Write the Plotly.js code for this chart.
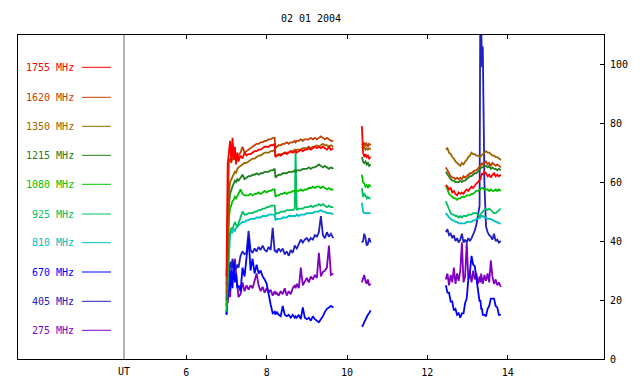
<!DOCTYPE html>
<html><head><meta charset="utf-8">
<script src="https://cdn.plot.ly/plotly-3.0.1.min.js"></script>
<style>body{margin:0;background:#fff}#chart{width:640px;height:384px}</style>
</head><body><div id="chart"></div>
<script>
const titleText = '02 01 2004';
const xTicks = [6, 8, 10, 12, 14];
const yTicks = [0, 20, 40, 60, 80, 100];

const seg1Times = [7.00,7.03,7.06,7.09,7.12,7.15,7.18,7.21,7.24,7.27,7.30,7.35,7.40,7.45,7.50,7.55,7.60,7.65,7.70,7.75,7.80,7.85,7.90,7.95,8.00,8.05,8.10,8.15,8.20,8.22,8.25,8.30,8.35,8.40,8.45,8.50,8.55,8.60,8.65,8.70,8.72,8.75,8.80,8.85,8.90,8.95,9.00,9.05,9.10,9.15,9.20,9.25,9.30,9.35,9.40,9.45,9.50,9.55,9.60,9.66];
const seg2Times = [10.37,10.40,10.43,10.46,10.49,10.52,10.55,10.59];
const seg3Times = [12.46,12.50,12.54,12.58,12.62,12.66,12.70,12.74,12.78,12.82,12.86,12.90,12.94,12.98,13.02,13.06,13.10,13.14,13.18,13.22,13.26,13.30,13.32,13.34,13.36,13.38,13.42,13.46,13.50,13.54,13.58,13.62,13.66,13.70,13.74,13.78,13.83];
const times = [...seg1Times, null, ...seg2Times, null, ...seg3Times];

const f1755 = [28,66,70,74,67,75,68,72,66,70,67,69,68,70,69,69.5,69.5,70,70.5,70.5,71,71,71.5,72,72,72,72.5,72.5,73,68.5,69,69.5,69,69.5,70,69.5,70,70.5,70,70.5,70.5,70,70.5,71,70.5,71,71,71.5,71,71.5,72,71.5,72,71.5,72,71.5,71,72,71,71.5,
  null, 79,70,68.5,69.5,68.5,69,68,68.5,
  null, 59,58.5,57.5,58,56.5,57,56,55.5,56.5,56,56.5,56,57,57.5,57,58,58.5,58,59,59.5,60,60.5,61,62,63,62.5,63.5,63,62,62.5,61.5,62.5,63,62,62.5,62,62.5];
const f1620 = [25,55,67,68,66.5,69,67.5,68.5,67,68,69,70,72,70,70.5,71,71.5,72,72.5,73,73,73.5,73.5,74,74,74.5,74.5,75,75,71.5,72,72.5,72.5,73,73,73.5,73,73.5,73.5,74,73.5,74,74,74.5,74,74.5,74.5,74.5,75,74.5,75,74.5,75,75.5,75,74.5,75,74.5,74,74,
  null, 73,72.5,73.5,72.5,73,72,73,72.5,
  null, 65,64,62.5,62,61.5,61.5,61,61.5,61,61.5,61,62,61.5,62,62.5,63,63,63.5,64,64,64.5,65,65.5,66,66.5,66,66.5,67,66,66.5,65.5,66.5,66,65.5,66,65.5,65];
const f1350 = [22,45,56,60,61,62,62.5,63.5,63,64.5,65,65.5,66,66.5,66.5,67,67.5,68,68,68.5,69,69,69.5,70,70,70,70.5,70.5,71,68.5,69,69,69.5,69.5,70,70,70,70.5,70.5,71,70.5,71,71,71,71.5,71.5,71.5,72,71.5,72,72,72.5,72,72.5,73,72.5,72.5,72,72.5,72,
  null, 72,71.5,72,71,71.5,71,71.5,71,
  null, 71,71.5,70,69.5,68.5,68,67,66.5,66,65.5,66.5,66,67,67.5,68.5,69,70,69.5,69.5,69,69,68.5,68.5,69,69.5,69.5,70,70.5,70,70,69.5,69,69,68.5,68.5,68,67.5];
const f1215 = [20,40,52,56,57.5,58.5,59.5,60.5,60,61,60.5,61.5,62.5,61,61.5,62,62,62.5,62.5,63,62.5,63,63,63.5,63.5,63.5,64,64,64.5,61.5,62,62.5,62.5,63,63,63,63.5,63.5,63.5,64,63.5,64,64,64,64.5,64.5,64.5,65,64.5,65,65,65.5,66,65.5,65,65.5,65,64.5,65,64.5,
  null, 68.5,67,66.5,67,66,66.5,65.5,66,
  null, 63.5,62.5,61.5,61,60.5,60.5,60,60,60,60.5,60,60.5,60.5,61,61.5,62,62,62.5,63,63,63.5,64,64.5,65,65,65,65.5,65.5,65,65.5,64.5,65,64.5,64.5,64,64.5,64];
const f1080 = [18,35,48,51,52.5,53.5,54,55,54.5,55.5,56.5,57.5,56,55.5,55.5,55.5,56,55.5,56,56,56.5,56,56.5,57,56.5,57,57,57.5,57.5,55,55.5,55.5,56,56,56.5,56,56.5,56.5,57,57,56.5,57,57,57.5,57,57.5,57.5,58,58,58.5,58,58.5,58.5,58,58.5,58,57.5,58,57.5,57.5,
  null, 62.5,60,59.5,58.5,59,58,59,58.5,
  null, 59,57.5,56,55.5,55,54.5,54.5,54,54.5,54.5,55,55,55,55.5,55.5,55.5,56,56,56.5,57,57,57.5,57.5,58,58,58,57.5,57.5,57.5,57,57.5,57,57,57.5,57,57.5,57];
const f925 = [16,30,40,43,44.5,44,45.5,46.5,45.5,45,46,48,50,49,49,49.5,49.5,49.5,50,50,50.5,50.5,51,51,51.5,51.5,52,52,52,49,49.5,49.5,50,50,50,50.5,50.5,50.5,50.5,51,71,50.5,51,51,51,51.5,51.5,51.5,52,51.5,52,52,52.5,52,52.5,52,51.5,52,51.5,51.5,
  null, 58,55,56,55.5,54.5,55,54.5,54.5,
  null, 53.5,52,50.5,49.5,49,49,48.5,48.5,48,48.5,48,48.5,48.5,48.5,49,49,49,49.5,49.5,49.5,49,48.5,49,49.5,49.5,50,50.5,51,50.5,51,50.5,50,49.5,49.5,50,50.5,51];
const f810 = [18,28,38,42,43.5,43,44,43.5,44.5,45,45.5,46,46.5,46.5,47,47,47.5,47.5,47.5,48,48,48,48.5,48.5,48.5,49,49,49,49,47,47.5,47.5,47.5,48,48,48,48.5,48.5,48.5,48.5,48.5,49,48.5,49,49,49,49.5,49.5,49.5,49.5,50,50,50,50.5,50,50,49.5,49.5,49.5,49,
  null, 53,50,49.5,49.5,49.5,49.5,49.5,49.5,
  null, 49.5,48.5,48,47.5,47,47,46.5,46.5,46,46,46,46,46,46.5,46.5,46.5,46.5,47,47,47.5,47.5,48,48,48.5,48.5,48.5,48,48,47.5,47.5,47.5,47,47,46.5,46.5,46,46];
const f670 = [15,26,32,23,30,24,33,26,29,24,25,23,31,28,34,41,30,34,29,32,29,30,28,27,25.5,21.5,18.5,15.5,16,15,16,15,14.5,18,15,14.5,15,14,15,14,14.5,14,15,13.5,17.5,14,13.5,14,13,14.5,13.5,13,12.5,13.5,14.5,16,17,17.5,18,17.5,
  null, 11,11.5,12.5,13.5,14,15,15.5,16.5,
  null, 25,22.5,22.5,19.5,19.5,16.5,17,15,15.5,14,15.5,15.5,19,20.5,27,29.5,35,32,31.5,27,24,19.5,20,17,17,15,15,14.5,17,18,20.5,20.5,20.5,18,17.5,15,15];
const f405 = [15,22,28,33,31,34,31.5,32,30.5,32,31,35,36.5,35.5,36,43.5,37,36,37.5,36.5,38,37,38.5,37,36.5,38,37,44.5,36.5,37,36,37.5,36.5,37.5,35.5,36.5,35,37,36,38.5,38,37.5,39,40.5,39.5,40.5,41,40,41,40.5,42,41.5,43,48.5,42,41,43,41.5,42.5,41,
  null, 39.5,40,42.5,41,38.5,39,41,39.5,
  null, 43,44,42,42.5,41,42,40,41,39.5,40.5,42.5,39.5,40.5,39.5,41,40,41,42,43.5,45.5,48.5,52,130,118,99,106,60,45,43,42,41.5,40.5,42.5,40,40.5,39.5,40];
const f275 = [20,19,24,21,30,33,31,34,29,24,21,22,26,23,25,23.5,25,24,27,29,25,23,24.5,22.5,24,22.5,23.5,21.5,23,22,22.5,21.5,23,22,24,21.5,23,22,24,25,24,25.5,24,31,25,26.5,27.5,26,28,27,28.5,27.5,36,28,29.5,30,31,38.5,28.5,29,
  null, 26,27.5,28.5,26.5,25.5,27,25,25.5,
  null, 27,29,25,28.5,26,31,25.5,29,26.5,30,39.5,26,28,39.5,27,29.5,26,30,27,29,25.5,28,26,29,27,25.5,28.5,26.5,29,26,33.5,28,25.5,27,25,26,24.5];

const freqLabels = ['1755 MHz','1620 MHz','1350 MHz','1215 MHz','1080 MHz','925 MHz','810 MHz','670 MHz','405 MHz','275 MHz'];
const freqColors = ['#ff0000','#c04000','#9c6400','#208020','#00c000','#00c060','#00c0c0','#0000ff','#2020c0','#8000c0'];
const freqSeries = [f1755,f1620,f1350,f1215,f1080,f925,f810,f670,f405,f275];
const legendRows = [67.3, 97.3, 126.3, 155.3, 184.3, 214, 242.7, 272, 301.3, 330.3];

const FONT = 'DejaVu Sans Mono, monospace';
const PL = 18, PR = 604, PT = 35, PB = 359;
const pw = PR - PL, ph = PB - PT;
const px2paperX = p => (p - PL) / pw;
const px2paperY = p => (PB - p) / ph;

const traces = [];
for (let i = freqSeries.length - 1; i >= 0; i--) {
  traces.push({
    type: 'scatter', mode: 'lines', x: times, y: freqSeries[i],
    connectgaps: false, name: freqLabels[i],
    line: {color: freqColors[i], width: 1.8}, hoverinfo: 'skip'
  });
}

const annotations = [];
const shapes = [];
freqLabels.forEach((lab, i) => {
  annotations.push({
    xref: 'paper', yref: 'paper', x: px2paperX(76), y: px2paperY(legendRows[i]),
    xanchor: 'right', yanchor: 'middle', showarrow: false, text: lab,
    font: {family: FONT, size: 10, color: freqColors[i]}
  });
  shapes.push({
    type: 'line', xref: 'paper', yref: 'paper',
    x0: px2paperX(82), x1: px2paperX(111),
    y0: px2paperY(legendRows[i]), y1: px2paperY(legendRows[i]),
    line: {color: freqColors[i], width: 1}
  });
});
const utX = 4.449;
shapes.push({type: 'line', xref: 'x', yref: 'paper', x0: utX, x1: utX, y0: 0, y1: 1,
  line: {color: '#666666', width: 1}});
annotations.push({xref: 'x', yref: 'paper', x: utX, y: px2paperY(371), xanchor: 'center',
  yanchor: 'middle', showarrow: false, text: 'UT', font: {family: FONT, size: 10, color: '#000'}});

const layout = {
  width: 640, height: 384,
  margin: {l: PL, r: 640 - PR, t: PT, b: 384 - PB, pad: 0},
  paper_bgcolor: '#ffffff', plot_bgcolor: '#ffffff',
  showlegend: false,
  title: {text: titleText, x: px2paperX(311), xref: 'paper', xanchor: 'center',
    y: 1 - 18 / 384, yref: 'container', yanchor: 'middle',
    font: {family: FONT, size: 10, color: '#000'}},
  xaxis: {range: [1.811, 16.397], tickvals: xTicks, ticktext: xTicks.map(String),
    ticks: 'inside', ticklen: 4, tickcolor: '#000', tickwidth: 1,
    showline: true, linecolor: '#000', linewidth: 1, mirror: 'ticks',
    showgrid: false, zeroline: false, fixedrange: true, ticklabelstandoff: 4,
    tickfont: {family: FONT, size: 10, color: '#000'}},
  yaxis: {range: [0, 109.9], side: 'right', tickvals: yTicks, ticktext: yTicks.map(String),
    ticks: 'inside', ticklen: 4, tickcolor: '#000', tickwidth: 1,
    showline: true, linecolor: '#000', linewidth: 1, mirror: true,
    showgrid: false, zeroline: false, fixedrange: true, ticklabelstandoff: 3,
    tickfont: {family: FONT, size: 10, color: '#000'}},
  annotations: annotations,
  shapes: shapes
};

Plotly.newPlot('chart', traces, layout, {displayModeBar: false, staticPlot: true});
</script>
</body></html>
